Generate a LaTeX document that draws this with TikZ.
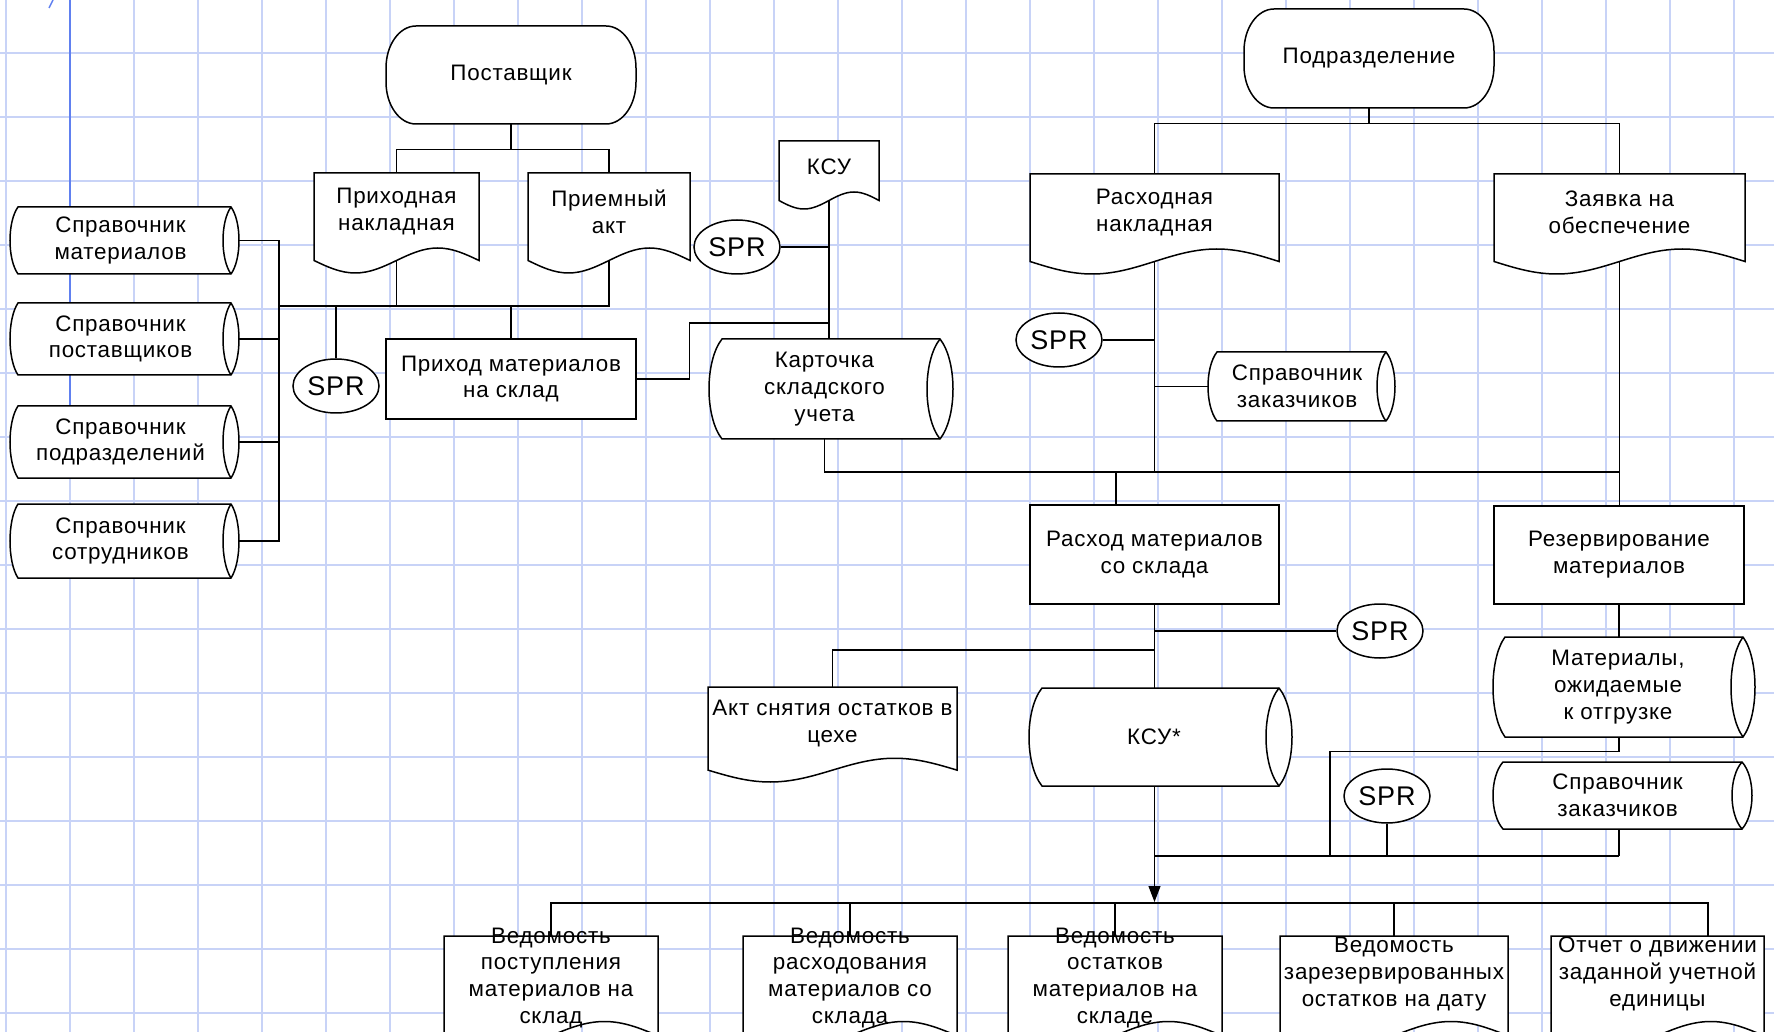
\documentclass[tikz,border=0pt]{standalone}
\usepackage{fontspec}
\setmainfont{Liberation Sans}[LetterSpace=3.5]
\usetikzlibrary{shapes.geometric,arrows.meta,fit}
\definecolor{gridc}{RGB}{200,211,247}
\definecolor{bluel}{RGB}{96,128,240}
\tikzset{
  shp/.style={draw=black, fill=white, line width=0.75pt},
  con/.style={draw=black, line width=0.6pt},
  txt/.style={font=\fontsize{11.2}{13.4}\selectfont, align=center, inner sep=0pt},
  spr/.style={ellipse, draw=black, fill=white, line width=0.75pt, minimum width=43pt,
    minimum height=27pt, inner sep=0pt, font=\fontsize{13.5}{15}\selectfont},
  fitbox/.style={inner sep=0pt},
  gridline/.style={draw=gridc, line width=0.7pt},
}
% document shape: [text shift], name, x1, top, x2, H, text
\newcommand\docshape[7][0]{%
  \pgfmathsetmacro\dW{#5-#3}%
  \pgfmathsetmacro\dm{#4+0.875*#6}%
  \pgfmathsetmacro\dlo{\dm+0.125*#6}%
  \pgfmathsetmacro\dhi{\dm-0.125*#6}%
  \pgfmathsetmacro\dxa{#3+0.25*\dW}%
  \pgfmathsetmacro\dxb{#3+0.5*\dW}%
  \pgfmathsetmacro\dxc{#3+0.75*\dW}%
  \pgfmathsetmacro\dty{#4+0.385*#6+#1}%
  \pgfmathsetmacro\dbot{#4+#6}%
  \path[shp] (#5,#4) -- (#3,#4) -- (#3,\dm) sin (\dxa,\dlo) cos (\dxb,\dm) sin (\dxc,\dhi) cos (#5,\dm) -- cycle;
  \node[fitbox, fit={(#3,#4) (#5,\dbot)}] (#2) {};
  \coordinate (#2-b) at (\dxb,\dm);
  \node[txt] (#2-t) at (\dxb,\dty) {#7};
}
% storage cylinder: name, x1, y1, x2, y2, bulge, text
\newcommand\cylshape[7]{%
  \pgfmathsetmacro\cc{4/3*#6}%
  \pgfmathsetmacro\cd{0.22*(#5-#3)}%
  \pgfmathsetmacro\cya{#3+\cd}%
  \pgfmathsetmacro\cyb{#5-\cd}%
  \pgfmathsetmacro\cxr{#4+\cc}%
  \pgfmathsetmacro\cxi{#4-\cc}%
  \pgfmathsetmacro\cxl{#2-\cc}%
  \pgfmathsetmacro\cmid{(#3+#5)/2}%
  \pgfmathsetmacro\ctx{(#2+#4-#6)/2}%
  \pgfmathsetmacro\cxo{#4+#6}%
  \pgfmathsetmacro\cxlo{#2-#6}%
  \path[shp] (#2,#3) -- (#4,#3) .. controls (\cxr,\cya) and (\cxr,\cyb) .. (#4,#5) -- (#2,#5) .. controls (\cxl,\cyb) and (\cxl,\cya) .. (#2,#3) -- cycle;
  \draw[shp, fill=none] (#4,#3) .. controls (\cxi,\cya) and (\cxi,\cyb) .. (#4,#5);
  \node[fitbox, fit={(\cxlo,#3) (\cxo,#5)}] (#1) {};
  \node[txt] (#1-t) at (\ctx,\cmid) {#7};
}
% terminal: name, x1, y1, x2, y2, text
\newcommand\termshape[6]{%
  \pgfmathsetmacro\ta{#2+30}%
  \pgfmathsetmacro\tb{#4-30}%
  \pgfmathsetmacro\tc{#3+42}%
  \pgfmathsetmacro\td{#5-42}%
  \pgfmathsetmacro\tka{#2+13.4}%
  \pgfmathsetmacro\tkb{#4-13.4}%
  \pgfmathsetmacro\tkc{#3+18.8}%
  \pgfmathsetmacro\tkd{#5-18.8}%
  \path[shp] (\ta,#3) -- (\tb,#3) .. controls (\tkb,#3) and (#4,\tkc) .. (#4,\tc) -- (#4,\td)
     .. controls (#4,\tkd) and (\tkb,#5) .. (\tb,#5) -- (\ta,#5)
     .. controls (\tka,#5) and (#2,\tkd) .. (#2,\td) -- (#2,\tc)
     .. controls (#2,\tkc) and (\tka,#3) .. (\ta,#3) -- cycle;
  \node[fitbox, fit={(#2,#3) (#4,#5)}] (#1) {};
  \node[txt] (#1-t) at (#1.center) {#6};
}
% process box: name, x1, y1, x2, y2, text
\newcommand\procshape[6]{%
  \node[shp, fitbox, fit={(#2,#3) (#4,#5)}] (#1) {};
  \node[txt] (#1-t) at (#1.center) {#6};
}
\begin{document}
\begin{tikzpicture}[x=0.5pt, y=-0.5pt]
\path[use as bounding box, clip] (0,0) rectangle (1774,1032);
\fill[white] (0,0) rectangle (1774,1032);
% grid
\foreach \i in {0,...,27} \draw[gridline] ({6+64*\i},0) -- ({6+64*\i},1032);
\foreach \j in {0,...,15} \draw[gridline] (0,{53+64*\j}) -- (1774,{53+64*\j});
\draw[bluel, line width=0.7pt] (70,0) -- (70,440);
\draw[bluel, line width=0.7pt] (53,0) -- (49,8);

% terminals
\termshape{post}{386}{26}{636}{124}{Поставщик}
\termshape{podr}{1244}{9}{1494}{108}{Подразделение}

% documents
\docshape{pn}{314}{173}{479}{100}{Приходная\\накладная}
\docshape{pa}{528}{173}{690}{100}{Приемный\\акт}
\docshape{ksu}{779}{141}{879}{68}{КСУ}
\docshape{rn}{1030}{174}{1279}{100}{Расходная\\накладная}
\docshape{zo}{1494}{174}{1745}{100}{Заявка на\\обеспечение}
\docshape{akt}{708}{687}{957}{95}{Акт снятия остатков в\\цехе}
\docshape[-2]{v1}{444}{936}{658}{114}{Ведомость\\поступления\\материалов на\\склад}
\docshape[-2]{v2}{743}{936}{957}{114}{Ведомость\\расходования\\материалов со\\склада}
\docshape[-2]{v3}{1008}{936}{1222}{114}{Ведомость\\остатков\\материалов на\\складе}
\docshape[-6]{v4}{1280}{936}{1508}{114}{Ведомость\\зарезервированных\\остатков на дату}
\docshape[-6]{v5}{1551}{936}{1764}{114}{Отчет о движении\\заданной учетной\\единицы}

% storage cylinders
\cylshape{sm}{18}{207}{231}{274}{8}{Справочник\\материалов}
\cylshape{sp}{18}{303}{231}{375}{8}{Справочник\\поставщиков}
\cylshape{spd}{18}{406}{231}{478}{8}{Справочник\\подразделений}
\cylshape{ss}{18}{504}{231}{578}{8}{Справочник\\сотрудников}
\cylshape{kart}{722}{339}{940}{439}{13}{Карточка\\складского\\учета}
\cylshape{sz1}{1217}{352}{1386}{421}{9}{Справочник\\заказчиков}
\cylshape{ksus}{1042}{688}{1279}{786}{13}{КСУ*}
\cylshape{mat}{1505}{637}{1743}{737}{12}{Материалы,\\ожидаемые\\к отгрузке}
\cylshape{sz2}{1503}{762}{1742}{829}{10}{Справочник\\заказчиков}

% processes
\procshape{prih}{386}{339}{636}{419}{Приход материалов\\на склад}
\procshape{rash}{1030}{505}{1279}{604}{Расход материалов\\со склада}
\procshape{rez}{1494}{506}{1744}{604}{Резервирование\\материалов}

% SPR
\node[spr] (s1) at (336,386) {SPR};
\node[spr] (s2) at (737,247) {SPR};
\node[spr] (s3) at (1059,340) {SPR};
\node[spr] (s4) at (1380,631) {SPR};
\node[spr] (s5) at (1387,796) {SPR};

% junction coordinates
\coordinate (busL) at (279,306);
\coordinate (kv) at (829,323);
\coordinate (h472) at (0,472);
\coordinate (d1) at (1116,472);
\coordinate (ak) at (0,650);
\coordinate (lb) at (1330,856);
\coordinate (ar) at (0,902);
\coordinate (v5d) at (1708,903);

% connectors: supplier side
\draw[con] (post.south) -- ++(0,25) -| (pn.north);
\draw[con] (post.south) -- ++(0,25) -| (pa.north);
\draw[con] (pn-b) -- (pn-b |- busL);
\draw[con] (pa-b) |- (busL);
\draw[con] (sm.east) -| (busL);
\draw[con] (ss.east) -| (busL);
\draw[con] (sp.east) -- (sp.east -| busL);
\draw[con] (spd.east) -- (spd.east -| busL);
\draw[con] (s1.north) -- (s1.north |- busL);
\draw[con] (prih.north) -- (prih.north |- busL);
\draw[con] (prih.east) -- ++(53,0) |- (kv);
\draw[con] (ksu-b) -- (ksu-b |- kart.north);
\draw[con] (s2.east) -- (s2.east -| ksu-b);
\draw[con] (kart-t |- kart.south) |- (zo-b |- h472);

% department side
\draw[con] (podr.south) -- ++(0,15) -| (rn.north);
\draw[con] (podr.south) -- ++(0,15) -| (zo.north);
\draw[con] (rn-b) -- (rn-b |- h472);
\draw[con] (zo-b) -- (zo-b |- rez.north);
\draw[con] (s3.east) -- (s3.east -| rn-b);
\draw[con] (sz1.west) -- (sz1.west -| rn-b);
\draw[con] (d1) -- (d1 |- rash.north);
\draw[con] (rash.south) -- (rash.south |- ksus.north);
\draw[con] (s4.west) -- (s4.west -| rash.south);
\draw[con] (rash.south |- ak) -| (akt.north);
\draw[con] (rez.south) -- (rez.south |- mat.north);
\draw[con] (rez.south |- mat.south) -- ++(0,14) -| (lb);
\draw[con] (s5.south) -- (s5.south |- lb);
\draw[con] (rez.south |- sz2.south) -- (rez.south |- lb);
\draw[con] (rash.south |- lb) -- (rez.south |- lb);
\draw[con, -{Triangle[length=8pt,width=6pt]}] (rash.south |- ksus.south) -- (rash.south |- ar);

% reports bus
\draw[con] (v1.north) |- (v5d) -- (v5d |- v5.north);
\draw[con] (v2.north) -- (v2.north |- v5d);
\draw[con] (v3.north) -- (v3.north |- v5d);
\draw[con] (v4.north) -- (v4.north |- v5d);
\end{tikzpicture}
\end{document}
